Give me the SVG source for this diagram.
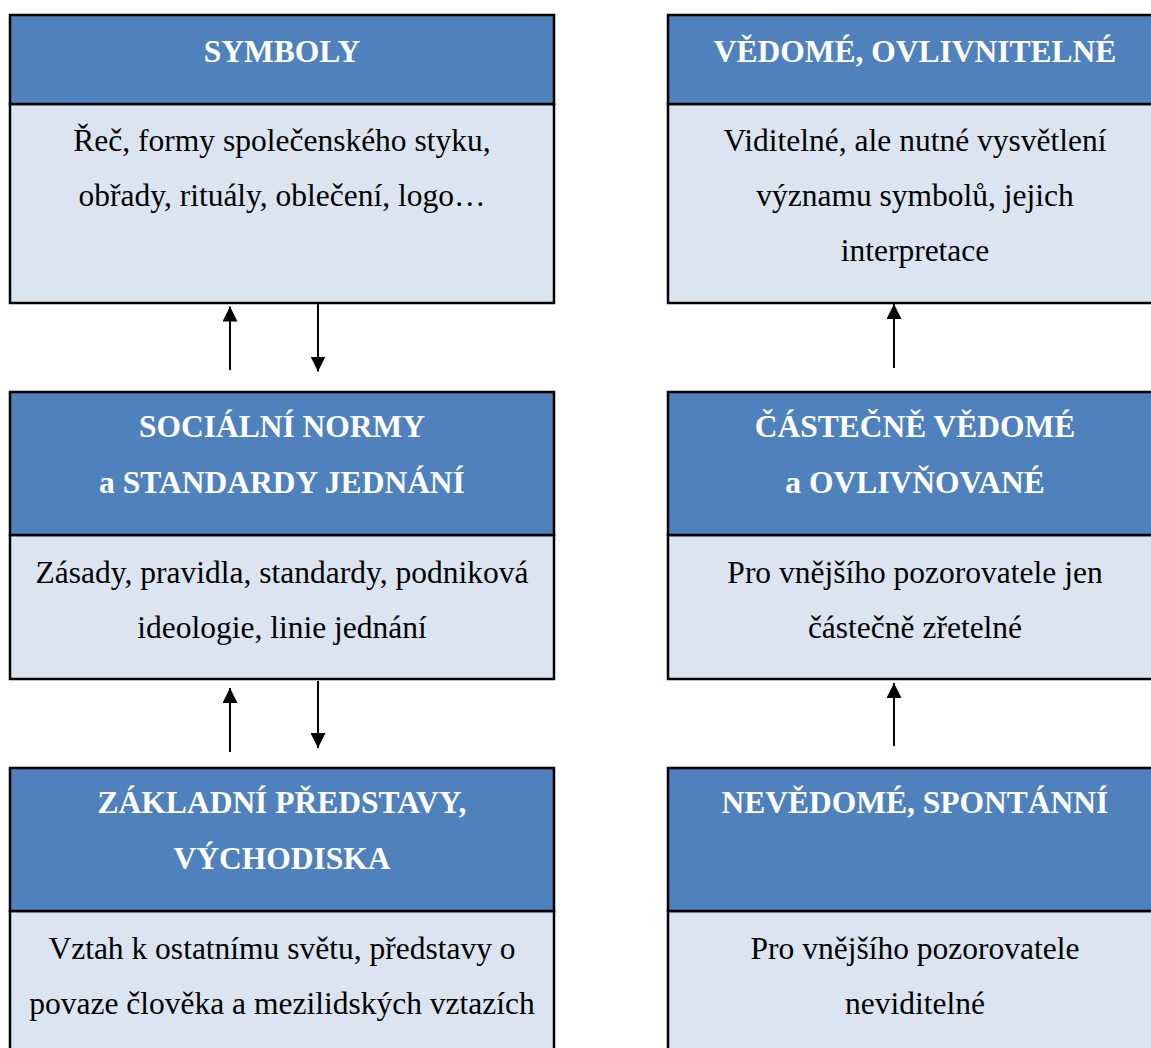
<svg xmlns="http://www.w3.org/2000/svg" width="1151" height="1048" viewBox="0 0 1151 1048">
<defs>
<style>
.hd{fill:#4F81BD;stroke:#000;stroke-width:2.5}
.bd{fill:#DBE5F1;stroke:#000;stroke-width:2.5}
.ht{font-size:31.5px;font-weight:bold;fill:#fff;text-anchor:middle}
.bt{font-size:31.5px;fill:#000;text-anchor:middle}
</style>
<marker id="ah2" viewBox="0 0 15 15" refX="15" refY="7.5" markerWidth="15" markerHeight="15" markerUnits="userSpaceOnUse" orient="auto">
<path d="M0,0 L15,7.5 L0,15 z" fill="#000"/>
</marker>
</defs>
<rect width="1151" height="1048" fill="#fff"/>

<g id="symboly">
<rect class="bd" x="10" y="104" width="544" height="199"/>
<rect class="hd" x="10" y="15" width="544" height="89"/>
<text class="ht" font-family="Liberation Serif, serif" x="282" y="62">SYMBOLY</text>
<text class="bt" font-family="Liberation Serif, serif" x="282" y="151">Řeč, formy společenského styku,</text>
<text class="bt" font-family="Liberation Serif, serif" x="282" y="206">obřady, rituály, oblečení, logo…</text>
</g>

<g id="vedome">
<rect class="bd" x="668" y="104" width="500" height="199"/>
<rect class="hd" x="668" y="15" width="500" height="89"/>
<text class="ht" font-family="Liberation Serif, serif" x="915" y="62">VĚDOMÉ, OVLIVNITELNÉ</text>
<text class="bt" font-family="Liberation Serif, serif" x="915" y="151">Viditelné, ale nutné vysvětlení</text>
<text class="bt" font-family="Liberation Serif, serif" x="915" y="206">významu symbolů, jejich</text>
<text class="bt" font-family="Liberation Serif, serif" x="915" y="261">interpretace</text>
</g>

<g id="normy">
<rect class="bd" x="10" y="535" width="544" height="144"/>
<rect class="hd" x="10" y="392" width="544" height="143"/>
<text class="ht" font-family="Liberation Serif, serif" x="282" y="437">SOCIÁLNÍ NORMY</text>
<text class="ht" font-family="Liberation Serif, serif" x="282" y="493">a STANDARDY JEDNÁNÍ</text>
<text class="bt" font-family="Liberation Serif, serif" x="282" y="583">Zásady, pravidla, standardy, podniková</text>
<text class="bt" font-family="Liberation Serif, serif" x="282" y="638">ideologie, linie jednání</text>
</g>

<g id="castecne">
<rect class="bd" x="668" y="535" width="500" height="144"/>
<rect class="hd" x="668" y="392" width="500" height="143"/>
<text class="ht" font-family="Liberation Serif, serif" x="915" y="437">ČÁSTEČNĚ VĚDOMÉ</text>
<text class="ht" font-family="Liberation Serif, serif" x="915" y="493">a OVLIVŇOVANÉ</text>
<text class="bt" font-family="Liberation Serif, serif" x="915" y="583">Pro vnějšího pozorovatele jen</text>
<text class="bt" font-family="Liberation Serif, serif" x="915" y="638">částečně zřetelné</text>
</g>

<g id="zakladni">
<rect class="bd" x="10" y="911" width="544" height="160"/>
<rect class="hd" x="10" y="768" width="544" height="143"/>
<text class="ht" font-family="Liberation Serif, serif" x="282" y="813">ZÁKLADNÍ PŘEDSTAVY,</text>
<text class="ht" font-family="Liberation Serif, serif" x="282" y="869">VÝCHODISKA</text>
<text class="bt" font-family="Liberation Serif, serif" x="282" y="959">Vztah k ostatnímu světu, představy o</text>
<text class="bt" font-family="Liberation Serif, serif" x="282" y="1014">povaze člověka a mezilidských vztazích</text>
</g>

<g id="nevedome">
<rect class="bd" x="668" y="911" width="500" height="160"/>
<rect class="hd" x="668" y="768" width="500" height="143"/>
<text class="ht" font-family="Liberation Serif, serif" x="915" y="813">NEVĚDOMÉ, SPONTÁNNÍ</text>
<text class="bt" font-family="Liberation Serif, serif" x="915" y="959">Pro vnějšího pozorovatele</text>
<text class="bt" font-family="Liberation Serif, serif" x="915" y="1014">neviditelné</text>
</g>

<g id="connectors" stroke="#000" stroke-width="2" fill="none">
<line x1="230" y1="370" x2="230" y2="306.5" marker-end="url(#ah2)"/>
<line x1="318" y1="304" x2="318" y2="371.5" marker-end="url(#ah2)"/>
<line x1="894" y1="368" x2="894" y2="304" marker-end="url(#ah2)"/>
<line x1="230" y1="752" x2="230" y2="688" marker-end="url(#ah2)"/>
<line x1="318" y1="681" x2="318" y2="748" marker-end="url(#ah2)"/>
<line x1="894" y1="746" x2="894" y2="683" marker-end="url(#ah2)"/>
</g>
</svg>
